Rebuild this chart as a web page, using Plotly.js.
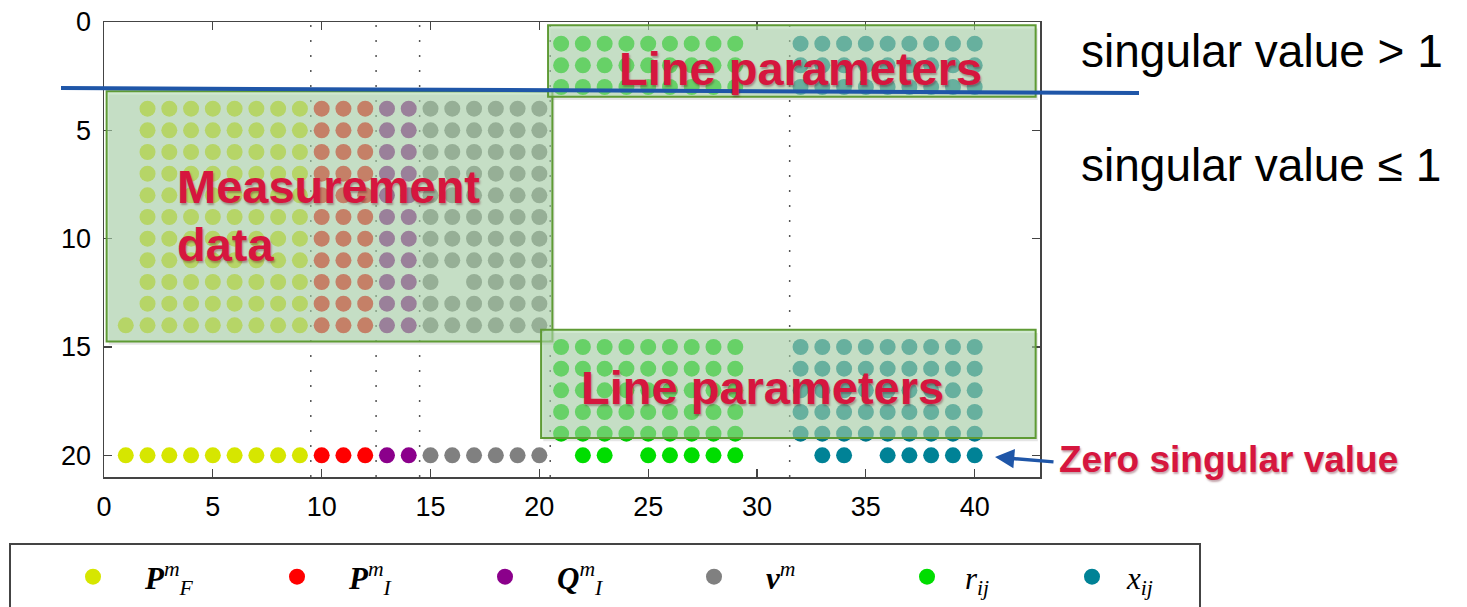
<!DOCTYPE html>
<html>
<head>
<meta charset="utf-8">
<script src="https://cdn.plot.ly/plotly-3.0.1.min.js"></script>
<style>html,body{margin:0;padding:0;background:#fff;}</style>
</head>
<body>
<div id="chart" style="width:1467px;height:607px;"></div>
<script>
// ---- data: for each series, the columns and the rows occupied in each column ----
var pfCols = [1, 2, 3, 4, 5, 6, 7, 8, 9];
var pfRows = [
  [14, 20],
  [4, 5, 6, 7, 8, 9, 10, 11, 12, 13, 14, 20],
  [4, 5, 6, 7, 8, 9, 10, 11, 12, 13, 14, 20],
  [4, 5, 6, 7, 8, 9, 10, 11, 12, 13, 14, 20],
  [4, 5, 6, 7, 8, 9, 10, 11, 12, 13, 14, 20],
  [4, 5, 6, 7, 8, 9, 10, 11, 12, 13, 14, 20],
  [4, 5, 6, 7, 8, 9, 10, 11, 12, 13, 14, 20],
  [4, 5, 6, 7, 8, 9, 10, 11, 12, 13, 14, 20],
  [4, 5, 6, 7, 8, 9, 10, 11, 12, 13, 14, 20]
];
var piCols = [10, 11, 12];
var piRows = [
  [4, 5, 6, 7, 8, 9, 10, 11, 12, 13, 14, 20],
  [4, 5, 6, 7, 8, 9, 10, 11, 12, 13, 14, 20],
  [4, 5, 6, 7, 8, 9, 10, 11, 12, 13, 14, 20]
];
var qiCols = [13, 14];
var qiRows = [
  [4, 5, 6, 7, 8, 9, 10, 11, 12, 13, 14, 20],
  [4, 5, 6, 7, 8, 9, 10, 11, 12, 13, 14, 20]
];
var vCols = [15, 16, 17, 18, 19, 20];
var vRows = [
  [4, 5, 6, 7, 8, 9, 10, 11, 12, 13, 14, 20],
  [4, 5, 6, 7, 8, 9, 10, 11, 13, 14, 20],
  [4, 5, 6, 7, 8, 9, 10, 11, 12, 13, 14, 20],
  [4, 5, 6, 7, 8, 9, 10, 11, 12, 13, 14, 20],
  [4, 5, 6, 7, 8, 9, 10, 11, 12, 13, 14, 20],
  [4, 5, 6, 7, 8, 9, 10, 11, 12, 13, 14, 20]
];
var rCols = [21, 22, 23, 24, 25, 26, 27, 28, 29];
var rRows = [
  [1, 2, 3, 15, 16, 17, 18, 19],
  [1, 2, 3, 15, 16, 17, 18, 19, 20],
  [1, 2, 3, 15, 16, 17, 18, 19, 20],
  [1, 2, 3, 15, 16, 17, 18, 19],
  [1, 2, 3, 15, 16, 17, 18, 19, 20],
  [1, 2, 3, 15, 16, 17, 18, 19, 20],
  [1, 2, 3, 15, 16, 17, 18, 19, 20],
  [1, 2, 3, 15, 16, 17, 18, 19, 20],
  [1, 2, 3, 15, 16, 17, 18, 19, 20]
];
var xCols = [32, 33, 34, 35, 36, 37, 38, 39, 40];
var xRows = [
  [1, 2, 3, 15, 16, 17, 18, 19],
  [1, 2, 3, 15, 16, 17, 18, 19, 20],
  [1, 2, 3, 15, 16, 17, 18, 19, 20],
  [1, 2, 3, 15, 16, 17, 18, 19],
  [1, 2, 3, 15, 16, 17, 18, 19, 20],
  [1, 2, 3, 15, 16, 17, 18, 19, 20],
  [1, 2, 3, 15, 16, 17, 18, 19, 20],
  [1, 2, 3, 15, 16, 17, 18, 19, 20],
  [1, 2, 3, 15, 16, 17, 18, 19, 20]
];
var seriesNames = [
  '<b><i>P</i></b><sup><i>m</i></sup><sub><i>F</i></sub>',
  '<b><i>P</i></b><sup><i>m</i></sup><sub><i>I</i></sub>',
  '<b><i>Q</i></b><sup><i>m</i></sup><sub><i>I</i></sub>',
  '<b><i>v</i></b><sup><i>m</i></sup>',
  '<i>r</i><sub><i>ij</i></sub>',
  '<i>x</i><sub><i>ij</i></sub>'
];
var separatorCols = [9.5, 12.5, 14.5, 20.5, 31.5];
var xTicks = [0, 5, 10, 15, 20, 25, 30, 35, 40];
var yTicks = [0, 5, 10, 15, 20];

// ---- styling ----
var colors = ['#d6e600', '#ff0000', '#8b008b', '#808080', '#00dd00', '#008296'];
var W = 1467, H = 607, L = 104, R = 1040, T = 22, B = 477;
function px(x) { return (x - L) / (R - L); }
function py(y) { return (B - y) / (B - T); }

function flatten(cols, rows) {
  var xs = [], ys = [];
  for (var i = 0; i < cols.length; i++) {
    for (var j = 0; j < rows[i].length; j++) { xs.push(cols[i]); ys.push(rows[i][j]); }
  }
  return {x: xs, y: ys};
}
var legendIds = ['legend', 'legend2', 'legend3', 'legend4', 'legend5', 'legend6'];
var groups = [[pfCols, pfRows], [piCols, piRows], [qiCols, qiRows], [vCols, vRows], [rCols, rRows], [xCols, xRows]];
var traces = groups.map(function (g, k) {
  var f = flatten(g[0], g[1]);
  return {
    type: 'scatter', mode: 'markers', x: f.x, y: f.y, name: seriesNames[k],
    marker: {color: colors[k], size: 16, line: {width: 0}},
    legend: legendIds[k],
    hoverinfo: 'x+y'
  };
});

var shapes = [];
separatorCols.forEach(function (c) {
  shapes.push({type: 'line', xref: 'x', yref: 'paper', x0: c, x1: c, y0: 0, y1: 1, layer: 'below',
    line: {color: '#555', width: 1.5, dash: '2px,13px'}});
});
var boxFill = 'rgba(175,217,175,0.59)', boxLine = '#5f9b35', boxShadow = 'rgba(0,0,0,0.10)';
var boxes = [[0.12, 20.6, 3.2, 14.75], [20.4, 42.8, 0.15, 3.45], [20.08, 42.8, 14.2, 19.2]];
boxes.forEach(function (b) {
  // soft drop shadow under each highlight box
  shapes.push({type: 'rect', xref: 'x', yref: 'y', x0: b[0] + 0.1, x1: b[1] + 0.1, y0: b[2] + 0.15, y1: b[3] + 0.15,
    layer: 'above', fillcolor: boxShadow, line: {width: 0}});
});
boxes.forEach(function (b) {
  shapes.push({type: 'rect', xref: 'x', yref: 'y', x0: b[0], x1: b[1], y0: b[2], y1: b[3], layer: 'above',
    fillcolor: boxFill, line: {color: boxLine, width: 2}});
});
// singular value threshold line
shapes.push({type: 'line', xref: 'paper', yref: 'paper', x0: px(61), y0: py(88), x1: px(1139), y1: py(93),
  line: {color: '#1f56a8', width: 4}});
// legend frame
shapes.push({type: 'rect', xref: 'paper', yref: 'paper', x0: px(10), x1: px(1200), y0: py(544), y1: py(620),
  line: {color: '#444', width: 2}, fillcolor: 'rgba(0,0,0,0)'});

var red = '#d6163e';
var redFont = function (s) { return {family: 'Liberation Sans, Arial, sans-serif', size: s, color: red, weight: 'bold',
  shadow: '1px 2px 2px rgba(90,0,20,0.35)'}; };
var blackFont = {family: 'Liberation Sans, Arial, sans-serif', size: 46, color: '#000'};
function txt(t, x, y, font) {
  return {text: t, xref: 'paper', yref: 'paper', x: px(x), y: py(y), xanchor: 'left', yanchor: 'middle',
    showarrow: false, font: font, borderpad: 0};
}
var annotations = [
  txt('singular value > 1', 1080, 51, blackFont),
  txt('singular value \u2264 1', 1080, 165, blackFont),
  txt('<b>Measurement</b>', 176, 186, redFont(47)),
  txt('<b>data</b>', 176, 244, redFont(47)),
  txt('<b>Line parameters</b>', 618, 69, redFont(47)),
  txt('<b>Line parameters</b>', 580, 387, redFont(47)),
  txt('<b>Zero singular value</b>', 1058, 459, redFont(37)),
  {text: '', xref: 'paper', yref: 'paper', x: px(995), y: py(457), ax: 60, ay: 5, showarrow: true,
    arrowhead: 2, arrowsize: 1.1, arrowwidth: 3.5, arrowcolor: '#1f56a8', standoff: 0}
];

var axisBase = {
  showgrid: false, zeroline: false, showline: true, mirror: 'ticks', linecolor: '#444', linewidth: 1.5,
  ticks: 'inside', ticklen: 8, tickwidth: 1.2, tickcolor: '#444',
  tickfont: {family: 'Liberation Sans, Arial, sans-serif', size: 27, color: '#000'}
};
var legendFont = {family: 'Liberation Serif, DejaVu Serif, serif', size: 31, color: '#000'};
// legend entries: symbol centre (px) and item width setting the symbol-to-text gap
var legendDot = [93, 297, 505, 714, 927, 1092];
var legendItemW = [94, 94, 94, 94, 66, 60];
var layout = {
  width: W, height: H,
  margin: {l: L, r: W - R, t: T, b: H - B, pad: 0, autoexpand: false},
  paper_bgcolor: '#fff', plot_bgcolor: '#fff',
  showlegend: true,
  xaxis: Object.assign({}, axisBase, {range: [0, 43], tickmode: 'array', tickvals: xTicks, ticklabelstandoff: 5}),
  yaxis: Object.assign({}, axisBase, {range: [21, 0], tickmode: 'array', tickvals: yTicks, ticklabelstandoff: 6}),
  shapes: shapes,
  annotations: annotations
};
legendIds.forEach(function (id, k) {
  var iw = legendItemW[k];
  layout[id] = {orientation: 'h', x: px(legendDot[k] - (iw + 10) / 2), y: py(577), xanchor: 'left', yanchor: 'middle',
    bgcolor: 'rgba(0,0,0,0)', borderwidth: 0, itemwidth: iw, font: legendFont};
});
Plotly.newPlot('chart', traces, layout, {displayModeBar: false, staticPlot: true});
</script>
</body>
</html>
